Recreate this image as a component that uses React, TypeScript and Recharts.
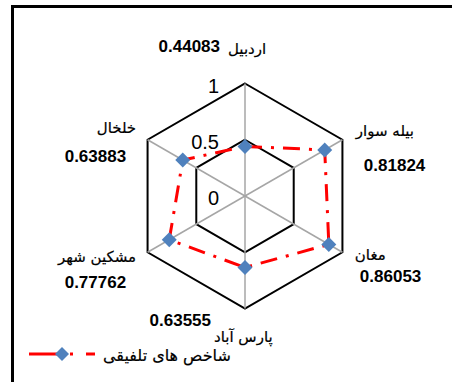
import {
  RadarChart,
  Radar,
  PolarGrid,
  PolarAngleAxis,
  PolarRadiusAxis,
  Legend,
} from "recharts";

const cities = ["اردبیل", "بیله سوار", "مغان", "پارس آباد", "مشکین شهر", "خلخال"];
const scores = [0.44083, 0.81824, 0.86053, 0.63555, 0.77762, 0.63883];
const radiusTicks = [0, 0.5, 1];
const seriesName = "شاخص های تلفیقی";

const data = cities.map((city, i) => ({ city, score: scores[i] }));

const RED = "#FF0000";
const BLUE = "#4F81BD";
const ARABIC_FONT = "'DejaVu Sans', sans-serif";
const NUM_FONT = "'Liberation Sans', Arial, sans-serif";

// label placement around each vertex: [labelDx, labelDy, labelAnchor, valueDx, valueDy, valueAnchor]
const labelLayout: [number, number, string, number, number, string][] = [
  [-17, -22, "start", -25, -23.5, "end"],
  [6.5, 0, "start", 14.5, 35, "start"],
  [5.5, 4, "start", 10.5, 26, "start"],
  [-31, 25.5, "start", -34, 9.5, "end"],
  [-4.5, 6, "end", -14.5, 32, "end"],
  [-4.5, -3, "end", -14.5, 26, "end"],
];

const AngleTick = (props: any) => {
  const { x, y, payload } = props;
  const i = payload.index ?? cities.indexOf(payload.value);
  const [ldx, ldy, la, vdx, vdy, va] = labelLayout[i];
  return (
    <g>
      <text
        x={x + ldx}
        y={y + ldy}
        textAnchor={la as any}
        fontFamily={ARABIC_FONT}
        fontSize={15}
        fill="#000"
        stroke="#000"
        strokeWidth={0.2}
      >
        {payload.value}
      </text>
      <text
        x={x + vdx}
        y={y + vdy}
        textAnchor={va as any}
        fontFamily={NUM_FONT}
        fontWeight="bold"
        fontSize={17}
        fill="#000"
      >
        {scores[i].toFixed(5)}
      </text>
    </g>
  );
};

const RadiusTick = (props: any) => {
  const { x, y, payload } = props;
  return (
    <text
      x={x - 26}
      y={y + 2}
      textAnchor="end"
      dominantBaseline="central"
      fontFamily={NUM_FONT}
      fontSize={20}
      fill="#000"
    >
      {payload.value}
    </text>
  );
};

const Diamond = (props: any) => {
  const { cx, cy } = props;
  if (cx == null || cy == null) return null;
  const s = 7.5;
  return (
    <path
      d={`M${cx},${cy - s} L${cx + s},${cy} L${cx},${cy + s} L${cx - s},${cy} Z`}
      fill={BLUE}
    />
  );
};

const LegendContent = () => (
  <svg width={240} height={30}>
    <line x1={29} y1={12} x2={62} y2={12} stroke={RED} strokeWidth={3} />
    <line x1={70} y1={12} x2={73} y2={12} stroke={RED} strokeWidth={3} />
    <line x1={86} y1={12} x2={95} y2={12} stroke={RED} strokeWidth={3} />
    <path d="M62,5 L69,12 L62,19 L55,12 Z" fill={BLUE} />
    <text
      x={103}
      y={19}
      fontFamily={ARABIC_FONT}
      fontSize={16}
      fill="#000"
      stroke="#000"
      strokeWidth={0.2}
    >
      {seriesName}
    </text>
  </svg>
);

export default function App() {
  return (
    <div
      style={{
        position: "absolute",
        left: 0,
        top: 0,
        width: 452,
        height: 382,
        background: "#fff",
        overflow: "hidden",
      }}
    >
      <div
        style={{
          position: "absolute",
          left: 11,
          top: 5,
          width: 441,
          height: 377,
          borderTop: "3px solid #000",
          borderLeft: "3px solid #000",
          boxSizing: "border-box",
        }}
      />
      <div style={{ position: "absolute", left: 0, top: 0 }}>
        <RadarChart
          width={452}
          height={382}
          data={data}
          cx={245}
          cy={196}
          outerRadius={112.5}
          margin={{ top: 0, right: 0, bottom: 0, left: 0 }}
        >
          <PolarGrid gridType="polygon" radialLines={false} stroke="#000" strokeWidth={2} />
          <PolarGrid gridType="polygon" polarRadius={[]} stroke="#A6A6A6" strokeWidth={1.5} />
          <PolarAngleAxis
            dataKey="city"
            tick={AngleTick}
            tickLine={false}
            axisLine={false}
            tickSize={0}
          />
          <PolarRadiusAxis
            angle={90}
            domain={[0, 1]}
            ticks={radiusTicks as any}
            tickCount={3}
            axisLine={false}
            tickLine={false}
            tick={RadiusTick}
          />
          <Radar
            name={seriesName}
            dataKey="score"
            stroke={RED}
            strokeWidth={3}
            strokeDasharray="17 9 3 9"
            fill="none"
            fillOpacity={0}
            dot={<Diamond />}
            isAnimationActive={false}
          />
          <Legend
            content={LegendContent}
            wrapperStyle={{ position: "absolute", left: 0, top: 342, width: 240, height: 30 }}
          />
        </RadarChart>
      </div>
    </div>
  );
}
